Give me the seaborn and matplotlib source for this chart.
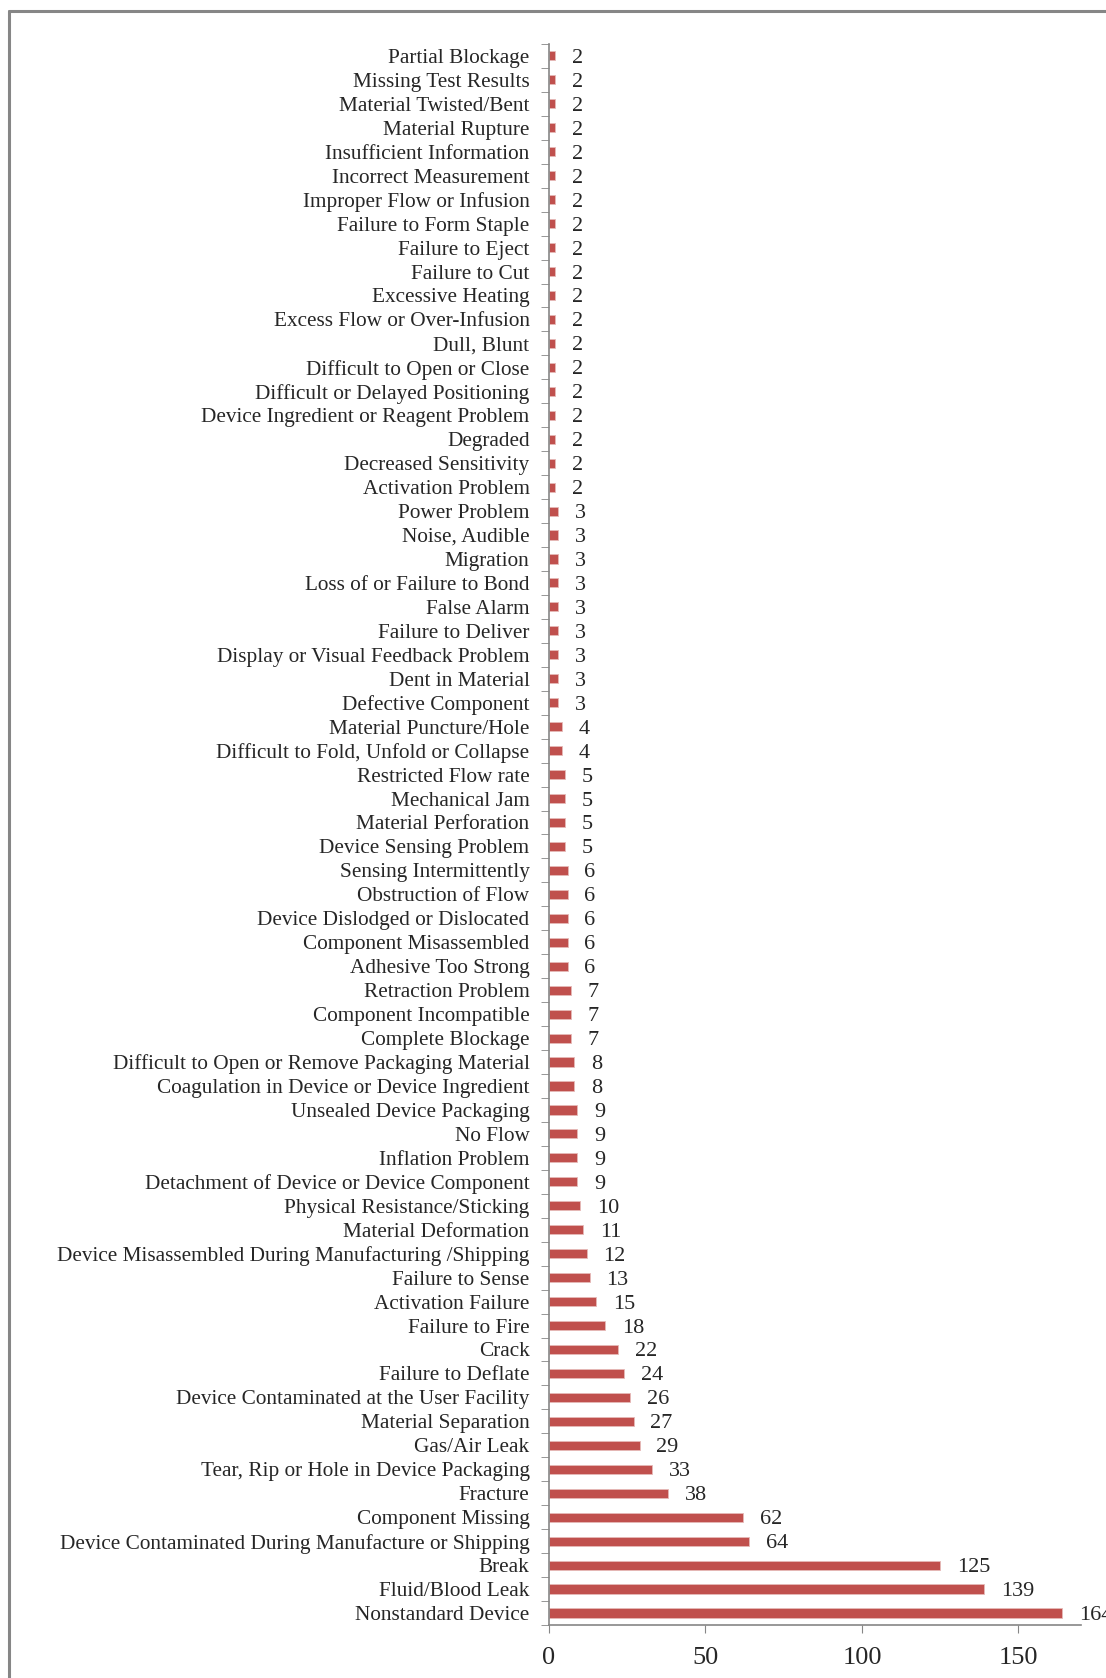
import pandas as pd
import seaborn as sns
import matplotlib.pyplot as plt
import numpy as np

problems = [
    "Partial Blockage", "Missing Test Results", "Material Twisted/Bent", "Material Rupture",
    "Insufficient Information", "Incorrect Measurement", "Improper Flow or Infusion",
    "Failure to Form Staple", "Failure to Eject", "Failure to Cut", "Excessive Heating",
    "Excess Flow or Over-Infusion", "Dull, Blunt", "Difficult to Open or Close",
    "Difficult or Delayed Positioning", "Device Ingredient or Reagent Problem", "Degraded",
    "Decreased Sensitivity", "Activation Problem", "Power Problem", "Noise, Audible",
    "Migration", "Loss of or Failure to Bond", "False Alarm", "Failure to Deliver",
    "Display or Visual Feedback Problem", "Dent in Material", "Defective Component",
    "Material Puncture/Hole", "Difficult to Fold, Unfold or Collapse", "Restricted Flow rate",
    "Mechanical Jam", "Material Perforation", "Device Sensing Problem",
    "Sensing Intermittently", "Obstruction of Flow", "Device Dislodged or Dislocated",
    "Component Misassembled", "Adhesive Too Strong", "Retraction Problem",
    "Component Incompatible", "Complete Blockage",
    "Difficult to Open or Remove Packaging Material",
    "Coagulation in Device or Device Ingredient", "Unsealed Device Packaging", "No Flow",
    "Inflation Problem", "Detachment of Device or Device Component",
    "Physical Resistance/Sticking", "Material Deformation",
    "Device Misassembled During Manufacturing /Shipping", "Failure to Sense",
    "Activation Failure", "Failure to Fire", "Crack", "Failure to Deflate",
    "Device Contaminated at the User Facility", "Material Separation", "Gas/Air Leak",
    "Tear, Rip or Hole in Device Packaging", "Fracture", "Component Missing",
    "Device Contaminated During Manufacture or Shipping", "Break", "Fluid/Blood Leak",
    "Nonstandard Device",
]
counts = [
    2, 2, 2, 2, 2, 2, 2, 2, 2, 2, 2, 2, 2, 2, 2, 2, 2, 2, 2,
    3, 3, 3, 3, 3, 3, 3, 3, 3,
    4, 4,
    5, 5, 5, 5,
    6, 6, 6, 6, 6,
    7, 7, 7,
    8, 8,
    9, 9, 9, 9,
    10, 11, 12, 13, 15, 18, 22, 24, 26, 27, 29, 33, 38, 62, 64, 125, 139, 164,
]
x_ticks = [0, 50, 100, 150]

df = pd.DataFrame({"problem": problems, "count": counts})

sns.set_style("white")
plt.rcParams["font.family"] = ["Liberation Serif", "DejaVu Serif"]

fig = plt.figure(figsize=(11.06, 16.78), dpi=100)
ax = fig.add_axes([0.4964, 0.0316, 0.481, 0.9422])

sns.barplot(data=df, y="problem", x="count", orient="h", color="#C0504D",
            saturation=1, width=0.38, edgecolor="#E6B9B8", linewidth=0.6, ax=ax)

labels = ax.bar_label(ax.containers[0], labels=[str(c) for c in counts], padding=12,
                      fontsize=16, clip_on=False)
for t in labels:
    t.set_va("center_baseline")

ax.set_xlim(0, 170)
ax.set_ylim(len(problems) - 0.5, -0.5)
ax.set_xticks(x_ticks)
ax.set_xlabel("")
ax.set_ylabel("")

ax.tick_params(axis="y", which="major", length=0, pad=14, labelsize=15.3)
ax.set_yticks(np.arange(len(problems) + 1) - 0.5, minor=True)
ax.tick_params(axis="y", which="minor", left=True, length=6, color="#868686")
ax.tick_params(axis="x", which="major", bottom=True, length=6, color="#868686",
               labelsize=19, pad=10)

for side in ["top", "right"]:
    ax.spines[side].set_visible(False)
for side in ["left", "bottom"]:
    ax.spines[side].set_color("#868686")
    ax.spines[side].set_linewidth(1.2)

# chart area border (left and top edges visible)
fig.add_artist(plt.Line2D([0.008, 0.008], [0, 0.9935], color="#868686", lw=2.2))
fig.add_artist(plt.Line2D([0.008, 1.0], [0.9935, 0.9935], color="#868686", lw=2.2))

plt.savefig("out.png", dpi=100)
